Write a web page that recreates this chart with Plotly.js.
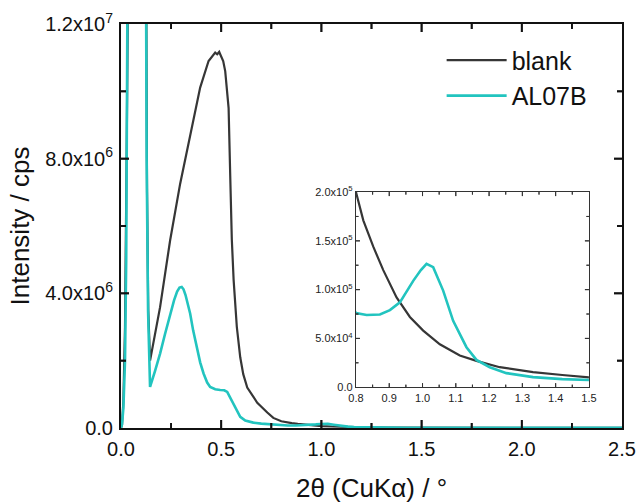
<!DOCTYPE html>
<html>
<head>
<meta charset="utf-8">
<script src="https://cdn.plot.ly/plotly-3.0.1.min.js"></script>
<style>html,body{margin:0;padding:0;background:#fff;}#chart{width:639px;height:503px;}</style>
</head>
<body>
<div id="chart"></div>
<script>
// 2θ values (degrees) and intensities (cps)
const blankX = [0, 0.005, 0.012, 0.02, 0.028, 0.035, 0.06, 0.1, 0.118, 0.124, 0.13, 0.136, 0.14, 0.145,
  0.195, 0.245, 0.295, 0.345, 0.395, 0.437, 0.455, 0.47, 0.48, 0.49, 0.495, 0.51, 0.52, 0.53, 0.537, 0.545,
  0.553, 0.562, 0.578, 0.595, 0.61, 0.63, 0.68, 0.73, 0.76, 0.80, 0.822, 0.852, 0.882, 0.922, 0.962, 1.002,
  1.052, 1.112, 1.162, 1.232, 1.332, 1.42, 1.5, 1.7, 2.0, 2.5];
const blankY = [0, 1.0e5, 8.0e5, 3.0e6, 8.0e6, 1.4e7, 5.0e7, 6.0e7, 2.5e7, 1.3e7, 7.0e6, 3.5e6, 2.6e6, 2.0e6,
  3.59e6, 5.57e6, 7.25e6, 8.73e6, 1.011e7, 1.09e7, 1.105e7, 1.115e7, 1.11e7, 1.117e7, 1.11e7, 1.09e7, 1.06e7, 1.0e7, 9.5e6, 7.5e6,
  5.6e6, 4.4e6, 3.0e6, 2.1e6, 1.6e6, 1.2e6, 7.5e5, 4.6e5, 3.0e5, 2.0e5, 1.71e5, 1.44e5, 1.20e5, 9.2e4, 7.2e4, 5.8e4,
  4.4e4, 3.25e4, 2.7e4, 2.05e4, 1.54e4, 1.25e4, 1.0e4, 8.0e3, 6.5e3, 5.0e3];

const al07bX = [0, 0.005, 0.012, 0.02, 0.026, 0.031, 0.034, 0.05, 0.08, 0.115, 0.122, 0.128, 0.135, 0.14, 0.145,
  0.17, 0.195, 0.22, 0.245, 0.265, 0.28, 0.292, 0.303, 0.312, 0.322, 0.333, 0.345, 0.36, 0.378, 0.395, 0.412, 0.43, 0.445, 0.47, 0.495, 0.515, 0.53, 0.54,
  0.55, 0.562, 0.58, 0.595, 0.62, 0.66, 0.70, 0.76, 0.80, 0.832, 0.872, 0.902, 0.932, 0.972, 0.995, 1.012,
  1.032, 1.062, 1.092, 1.132, 1.162, 1.202, 1.252, 1.332, 1.42, 1.5, 1.7, 2.0, 2.5];
const al07bY = [0, 1.0e5, 6.0e5, 2.0e6, 5.0e6, 1.0e7, 1.5e7, 5.0e7, 9.0e7, 3.0e7, 1.5e7, 8.0e6, 3.5e6, 1.8e6, 1.22e6,
  1.7e6, 2.21e6, 2.8e6, 3.4e6, 3.8e6, 4.05e6, 4.17e6, 4.19e6, 4.12e6, 3.95e6, 3.7e6, 3.4e6, 2.9e6, 2.41e6, 1.95e6, 1.62e6, 1.35e6, 1.22e6, 1.15e6, 1.13e6, 1.12e6, 1.07e6, 9.5e5,
  8.2e5, 7.0e5, 4.8e5, 3.3e5, 2.2e5, 1.6e5, 1.3e5, 1.0e5, 7.6e4, 7.4e4, 7.45e4, 7.9e4, 8.7e4, 1.09e5, 1.2e5, 1.265e5,
  1.23e5, 9.9e4, 6.8e4, 4.1e4, 2.8e4, 2.05e4, 1.44e4, 1.03e4, 8.3e3, 6.8e3, 5.0e3, 4.0e3, 3.0e3];

// ticks and tick labels
const mainYTicks = [0, 4e6, 8e6, 1.2e7];
const mainYText = ['0.0', '4.0x10<sup>6</sup>', '8.0x10<sup>6</sup>', '1.2x10<sup>7</sup>'];
const mainYMinor = [2e6, 6e6, 1e7];
const mainXTicks = [0, 0.5, 1.0, 1.5, 2.0, 2.5];
const mainXText = ['0.0', '0.5', '1.0', '1.5', '2.0', '2.5'];
const mainXMinor = [0.25, 0.75, 1.25, 1.75, 2.25];
const insetYTicks = [0, 5e4, 1e5, 1.5e5, 2e5];
const insetYText = ['0.0', '5.0x10<sup>4</sup>', '1.0x10<sup>5</sup>', '1.5x10<sup>5</sup>', '2.0x10<sup>5</sup>'];
const insetYMinor = [2.5e4, 7.5e4, 1.25e5, 1.75e5];
const insetXTicks = [0.8, 0.9, 1.0, 1.1, 1.2, 1.3, 1.4, 1.5];
const insetXText = ['0.8', '0.9', '1.0', '1.1', '1.2', '1.3', '1.4', '1.5'];
const insetXMinor = [0.85, 0.95, 1.05, 1.15, 1.25, 1.35, 1.45];

const blankColor = '#363636';
const cyanColor = '#22c4bf';
const FONT = '"Liberation Sans", Arial, sans-serif';

const traces = [
  {x: blankX, y: blankY, type: 'scatter', mode: 'lines', name: 'blank',
   line: {color: blankColor, width: 2.2}, xaxis: 'x', yaxis: 'y'},
  {x: al07bX, y: al07bY, type: 'scatter', mode: 'lines', name: 'AL07B',
   line: {color: cyanColor, width: 2.6}, xaxis: 'x', yaxis: 'y'},
  {x: blankX, y: blankY, type: 'scatter', mode: 'lines', name: 'blank', showlegend: false,
   line: {color: blankColor, width: 2.2}, xaxis: 'x2', yaxis: 'y2'},
  {x: al07bX, y: al07bY, type: 'scatter', mode: 'lines', name: 'AL07B', showlegend: false,
   line: {color: cyanColor, width: 2.6}, xaxis: 'x2', yaxis: 'y2'}
];

// inward tick marks on all four sides, placed through the axes' own scales.
// Each tick is given twice (pixel-anchored and axis-domain based) so it shows whichever way the renderer handles it.
function tickShapes(xr, yr, xRange, yRange, xVals, yVals, len, width, color, wPx, hPx) {
  const s = [];
  const ln = {color: color, width: width};
  xVals.forEach(v => {
    s.push({type: 'line', xref: xr, yref: yr, x0: v, x1: v, ysizemode: 'pixel', yanchor: yRange[0], y0: 0, y1: len, line: ln, layer: 'above'});
    s.push({type: 'line', xref: xr, yref: yr, x0: v, x1: v, ysizemode: 'pixel', yanchor: yRange[1], y0: 0, y1: -len, line: ln, layer: 'above'});
    s.push({type: 'line', xref: xr, yref: yr + ' domain', x0: v, x1: v, y0: 0, y1: len / hPx, line: ln, layer: 'above'});
    s.push({type: 'line', xref: xr, yref: yr + ' domain', x0: v, x1: v, y0: 1, y1: 1 - len / hPx, line: ln, layer: 'above'});
  });
  yVals.forEach(v => {
    s.push({type: 'line', xref: xr, yref: yr, y0: v, y1: v, xsizemode: 'pixel', xanchor: xRange[0], x0: 0, x1: len, line: ln, layer: 'above'});
    s.push({type: 'line', xref: xr, yref: yr, y0: v, y1: v, xsizemode: 'pixel', xanchor: xRange[1], x0: 0, x1: -len, line: ln, layer: 'above'});
    s.push({type: 'line', xref: xr + ' domain', yref: yr, y0: v, y1: v, x0: 0, x1: len / wPx, line: ln, layer: 'above'});
    s.push({type: 'line', xref: xr + ' domain', yref: yr, y0: v, y1: v, x0: 1, x1: 1 - len / wPx, line: ln, layer: 'above'});
  });
  return s;
}

const mainXRange = [0, 2.5], mainYRange = [0, 1.2e7];
const insetXRange = [0.8, 1.5], insetYRange = [0, 2e5];
const mainW = 501, mainH = 404, insetW = 233, insetH = 195;

const shapes = [].concat(
  tickShapes('x', 'y', mainXRange, mainYRange, mainXTicks.slice(1, -1), mainYTicks.slice(1, -1), 8, 1.8, '#111', mainW, mainH),
  tickShapes('x', 'y', mainXRange, mainYRange, mainXMinor, mainYMinor, 5, 1.8, '#111', mainW, mainH),
  tickShapes('x2', 'y2', insetXRange, insetYRange, insetXTicks.slice(1, -1), insetYTicks.slice(1, -1), 4, 1, '#333', insetW, insetH),
  tickShapes('x2', 'y2', insetXRange, insetYRange, insetXMinor, insetYMinor, 2.5, 1, '#333', insetW, insetH)
);

const layout = {
  width: 639, height: 503,
  margin: {l: 121, r: 17, t: 24, b: 75},
  paper_bgcolor: '#fff', plot_bgcolor: '#fff',
  font: {family: FONT, color: '#111'},
  showlegend: true,
  legend: {x: 0.64, y: 0.967, xanchor: 'left', yanchor: 'top', bgcolor: 'rgba(0,0,0,0)',
           itemwidth: 60, font: {size: 25, family: FONT, color: '#111'}, tracegroupgap: 0},
  shapes: shapes,
  xaxis: {
    domain: [0, 1], range: mainXRange, tickmode: 'array', tickvals: mainXTicks, ticktext: mainXText,
    ticks: '', showline: true, linecolor: '#111', linewidth: 2, mirror: true,
    showgrid: false, zeroline: false, tickfont: {size: 20, family: FONT, color: '#111'}, ticklabelstandoff: 2,
    title: {text: '2\u03b8 (CuK\u03b1) / \u00b0', font: {size: 26, family: FONT, color: '#111'}, standoff: 20}
  },
  yaxis: {
    domain: [0, 1], range: mainYRange, tickmode: 'array', tickvals: mainYTicks, ticktext: mainYText,
    ticks: '', showline: true, linecolor: '#111', linewidth: 2, mirror: true,
    showgrid: false, zeroline: false, tickfont: {size: 20, family: FONT, color: '#111'}, ticklabelstandoff: 2,
    title: {text: 'Intensity / cps', font: {size: 26, family: FONT, color: '#111'}, standoff: 8}
  },
  xaxis2: {
    domain: [0.469, 0.934], anchor: 'y2', range: insetXRange, tickmode: 'array', tickvals: insetXTicks, ticktext: insetXText,
    ticks: '', showline: true, linecolor: '#333', linewidth: 1.2, mirror: true,
    showgrid: false, zeroline: false, tickfont: {size: 11, family: FONT, color: '#222'}
  },
  yaxis2: {
    domain: [0.101, 0.584], anchor: 'x2', range: insetYRange, tickmode: 'array', tickvals: insetYTicks, ticktext: insetYText,
    ticks: '', showline: true, linecolor: '#333', linewidth: 1.2, mirror: true,
    showgrid: false, zeroline: false, tickfont: {size: 11, family: FONT, color: '#222'}
  }
};

Plotly.newPlot('chart', traces, layout, {staticPlot: true, displayModeBar: false});
</script>
</body>
</html>
